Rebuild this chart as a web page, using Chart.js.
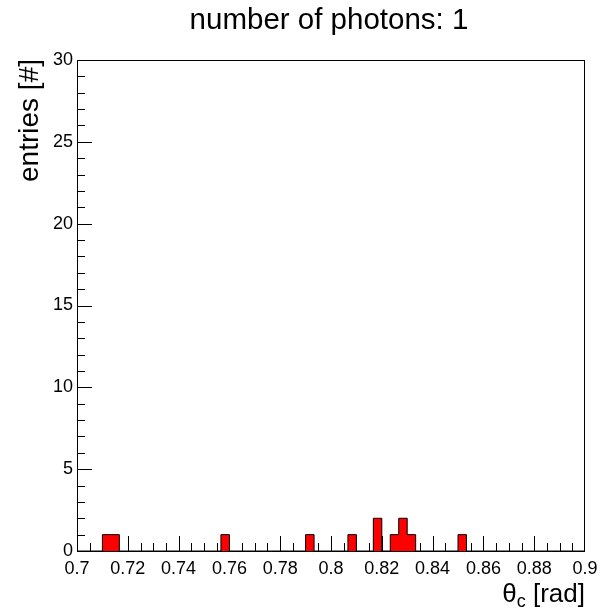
<!DOCTYPE html>
<html>
<head>
<meta charset="utf-8">
<script src="https://cdn.jsdelivr.net/npm/chart.js@4/dist/chart.umd.min.js"></script>
<style>
  html, body { margin: 0; padding: 0; background: #fff; }
  #wrap { width: 611px; height: 614px; position: relative; }
</style>
</head>
<body>
<div id="wrap"><canvas id="chart" width="611" height="614"></canvas></div>
<script>
// histogram: 60 bins between 0.7 and 0.9
const xMin = 0.7
const xMax = 0.9
const counts = [
  0, 0, 0, 1, 1, 0, 0, 0, 0, 0,
  0, 0, 0, 0, 0, 0, 0, 1, 0, 0,
  0, 0, 0, 0, 0, 0, 0, 1, 0, 0,
  0, 0, 1, 0, 0, 2, 0, 1, 2, 1,
  0, 0, 0, 0, 0, 1, 0, 0, 0, 0,
  0, 0, 0, 0, 0, 0, 0, 0, 0, 0
]
const xTicks = [0.7, 0.72, 0.74, 0.76, 0.78, 0.8, 0.82, 0.84, 0.86, 0.88, 0.9]
const yTicks = [0, 5, 10, 15, 20, 25, 30]
const xMinorStep = 0.005
const yMinorStep = 1

const FONT = '"Liberation Sans", Arial, Helvetica, sans-serif'
const binWidth = (xMax - xMin) / counts.length

// bin edges -> stepped outline
const histPoints = counts.map((c, i) => ({ x: xMin + i * binWidth, y: c }))
histPoints.push({ x: xMax, y: 0 })

const rootFrame = {
  id: 'rootFrame',
  beforeDatasetsDraw (chart) {
    const { ctx, chartArea: a, scales: { x, y } } = chart
    ctx.save()
    ctx.strokeStyle = '#000'
    ctx.lineWidth = 1
    ctx.beginPath()
    // x ticks, drawn upwards from the bottom axis
    const nx = Math.round((xMax - xMin) / xMinorStep)
    for (let k = 0; k <= nx; k++) {
      let px = Math.round(x.getPixelForValue(xMin + k * xMinorStep)) + 0.5
      px = Math.min(px, Math.round(a.right) - 0.5)
      const len = k % 4 === 0 ? 15 : 8
      ctx.moveTo(px, a.bottom)
      ctx.lineTo(px, a.bottom - len)
    }
    // y ticks, drawn to the right from the left axis
    for (let k = 0; k <= 30; k += yMinorStep) {
      const py = Math.round(y.getPixelForValue(k)) + 0.5
      const len = k % 5 === 0 ? 15 : 8
      ctx.moveTo(a.left, py)
      ctx.lineTo(a.left + len, py)
    }
    ctx.stroke()
    ctx.restore()
  },
  afterDraw (chart) {
    const { ctx, chartArea: a } = chart
    ctx.save()
    ctx.strokeStyle = '#000'
    ctx.lineWidth = 1
    ctx.strokeRect(Math.round(a.left) + 0.5, Math.round(a.top) + 0.5,
      Math.round(a.right - a.left) - 1, Math.round(a.bottom - a.top))

    ctx.fillStyle = '#000'
    // title
    ctx.font = '29.5px ' + FONT
    ctx.textAlign = 'center'
    ctx.textBaseline = 'alphabetic'
    ctx.fillText('number of photons: 1', (a.left + a.right) / 2 - 2, 29)

    // y title, right aligned at the top of the axis
    ctx.save()
    ctx.translate(38, a.top - 1)
    ctx.rotate(-Math.PI / 2)
    ctx.font = '28px ' + FONT
    ctx.textAlign = 'right'
    ctx.fillText('entries [#]', 0, 0)
    ctx.restore()

    // x title θc [rad], right aligned
    ctx.textAlign = 'left'
    ctx.font = '26px ' + FONT
    const wTheta = ctx.measureText('θ').width
    const wRest = ctx.measureText(' [rad]').width
    ctx.font = '18px ' + FONT
    const wSub = ctx.measureText('c').width
    let xx = a.right - (wTheta + wSub + wRest)
    const base = 601.5
    ctx.font = '26px ' + FONT
    ctx.fillText('θ', xx, base)
    xx += wTheta
    ctx.font = '18px ' + FONT
    ctx.fillText('c', xx, base + 5)
    xx += wSub
    ctx.font = '26px ' + FONT
    ctx.fillText(' [rad]', xx, base)
    ctx.restore()
  }
}

new Chart(document.getElementById('chart').getContext('2d'), {
  type: 'line',
  data: {
    datasets: [{
      data: histPoints,
      stepped: true,
      fill: 'origin',
      backgroundColor: '#ff0000',
      borderColor: '#000',
      borderWidth: 1,
      pointRadius: 0,
      tension: 0,
      clip: false
    }]
  },
  options: {
    responsive: false,
    animation: false,
    events: [],
    layout: { padding: { left: 0, right: 26, top: 60, bottom: 0 } },
    plugins: {
      legend: { display: false },
      tooltip: { enabled: false }
    },
    scales: {
      x: {
        type: 'linear',
        min: xMin,
        max: xMax,
        grid: { display: false, drawTicks: false },
        border: { display: false },
        afterBuildTicks: s => { s.ticks = xTicks.map(v => ({ value: v })) },
        afterFit: s => { s.height = 63 },
        ticks: {
          padding: 7,
          maxRotation: 0,
          autoSkip: false,
          color: '#000',
          font: { family: FONT, size: 18 },
          callback: v => String(v)
        }
      },
      y: {
        type: 'linear',
        min: 0,
        max: 30,
        grid: { display: false, drawTicks: false },
        border: { display: false },
        afterBuildTicks: s => { s.ticks = yTicks.map(v => ({ value: v })) },
        afterFit: s => { s.width = 77 },
        ticks: {
          padding: 4,
          color: '#000',
          font: { family: FONT, size: 18 },
          callback: v => String(v)
        }
      }
    }
  },
  plugins: [rootFrame]
})
</script>
</body>
</html>
